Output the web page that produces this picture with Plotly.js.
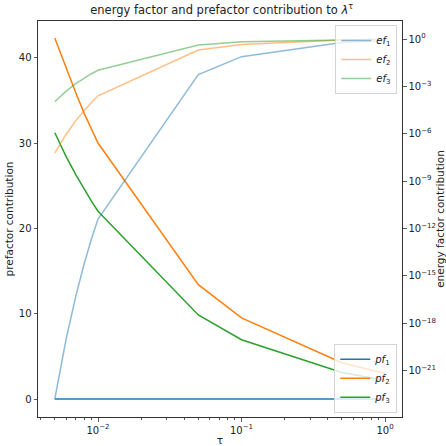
<!DOCTYPE html>
<html>
<head>
<meta charset="utf-8">
<script src="https://cdn.plot.ly/plotly-3.0.1.min.js"></script>
<style>html,body{margin:0;padding:0;background:#fff;}#chart{width:446px;height:446px;}</style>
</head>
<body>
<div id="chart"></div>
<script>
// temperature values
const tau = [0.005, 0.006, 0.007, 0.008, 0.009, 0.01, 0.05, 0.1, 0.5, 1.0];
// prefactor contributions (left axis, linear)
const pf1 = [0, 0, 0, 0, 0, 0, 0, 0, 0, 0];
const pf2 = [42.3, 38.7, 35.9, 33.5, 31.6, 30.0, 13.4, 9.5, 4.25, 3.0];
const pf3 = [31.2, 28.4, 26.3, 24.6, 23.2, 22.0, 9.85, 6.95, 3.1, 2.2];
// energy factor contributions (right axis, log) as exponents of 10
const ef1Exp = [-22.8, -19.0, -16.3, -14.25, -12.67, -11.4, -2.25, -1.12, -0.22, -0.11];
const ef2Exp = [-7.23, -6.03, -5.17, -4.52, -4.02, -3.6, -0.7, -0.35, -0.07, -0.036];
const ef3Exp = [-3.97, -3.3, -2.83, -2.48, -2.2, -1.98, -0.38, -0.18, -0.04, -0.02];
const ef1 = ef1Exp.map(e => Math.pow(10, e));
const ef2 = ef2Exp.map(e => Math.pow(10, e));
const ef3 = ef3Exp.map(e => Math.pow(10, e));

const xTickVals = [0.01, 0.1, 1];
const xTickText = ['10<sup>−2</sup>', '10<sup>−1</sup>', '10<sup>0</sup>'];
const y2TickExp = [0, -3, -6, -9, -12, -15, -18, -21];

const C = {blue: '31,119,180', orange: '255,127,14', green: '44,160,44'};
const minorX = [];
[0.001, 0.01, 0.1].forEach(d => { for (let k = 2; k <= 9; k++) minorX.push(k * d); });

const traces = [
  {x: tau, y: pf1, name: '<i>pf</i><sub>1</sub>', yaxis: 'y', legend: 'legend2', mode: 'lines', line: {color: 'rgb(' + C.blue + ')', width: 1.5}},
  {x: tau, y: pf2, name: '<i>pf</i><sub>2</sub>', yaxis: 'y', legend: 'legend2', mode: 'lines', line: {color: 'rgb(' + C.orange + ')', width: 1.5}},
  {x: tau, y: pf3, name: '<i>pf</i><sub>3</sub>', yaxis: 'y', legend: 'legend2', mode: 'lines', line: {color: 'rgb(' + C.green + ')', width: 1.5}},
  {x: tau, y: ef1, name: '<i>ef</i><sub>1</sub>', yaxis: 'y2', legend: 'legend', mode: 'lines', line: {color: 'rgba(' + C.blue + ',0.5)', width: 1.5}},
  {x: tau, y: ef2, name: '<i>ef</i><sub>2</sub>', yaxis: 'y2', legend: 'legend', mode: 'lines', line: {color: 'rgba(' + C.orange + ',0.5)', width: 1.5}},
  {x: tau, y: ef3, name: '<i>ef</i><sub>3</sub>', yaxis: 'y2', legend: 'legend', mode: 'lines', line: {color: 'rgba(' + C.green + ',0.5)', width: 1.5}}
];

const axisCommon = {
  showgrid: false, zeroline: false, showline: true, linecolor: '#333', linewidth: 1,
  ticks: 'outside', ticklen: 3.5, tickwidth: 0.8, tickcolor: '#333',
  tickfont: {size: 10, color: '#222'}
};

const legendCommon = {
  bgcolor: 'rgba(255,255,255,0.8)', bordercolor: '#d5d5d5', borderwidth: 1,
  font: {size: 10, color: '#222'}, xanchor: 'right', itemwidth: 30,
  tracegroupgap: 0
};

const layout = {
  width: 446, height: 446,
  margin: {l: 38, r: 44, t: 21, b: 29},
  paper_bgcolor: '#fff', plot_bgcolor: '#fff',
  font: {family: 'DejaVu Sans, sans-serif', color: '#222'},
  title: {text: 'energy factor and prefactor contribution to <i>λ</i><sup>τ</sup>', font: {size: 11.5}, x: 0.497, xanchor: 'center', y: 0.978, yanchor: 'middle'},
  showlegend: true,
  xaxis: Object.assign({}, axisCommon, {
    type: 'log', range: [-2.418, 0.118], mirror: true,
    tickvals: xTickVals, ticktext: xTickText,
    minor: {tickvals: minorX, ticks: 'outside', ticklen: 2, tickcolor: '#333', showgrid: false},
    title: {text: 'τ', font: {size: 10.5}, standoff: 3}
  }),
  yaxis: Object.assign({}, axisCommon, {
    range: [-2.11, 44.3], tickvals: [0, 10, 20, 30, 40], side: 'left',
    title: {text: 'prefactor contribution', font: {size: 10.5}, standoff: 3}
  }),
  yaxis2: Object.assign({}, axisCommon, {
    type: 'log', range: [-23.94, 1.14], overlaying: 'y', side: 'right', anchor: 'x',
    tickvals: y2TickExp.map(e => Math.pow(10, e)),
    ticktext: y2TickExp.map(e => '10<sup>' + (e < 0 ? '−' + (-e) : e) + '</sup>'),
    title: {text: 'energy factor contribution', font: {size: 10.5}, standoff: 4}
  }),
  legend: Object.assign({}, legendCommon, {x: 0.987, y: 0.99, yanchor: 'top'}),
  legend2: Object.assign({}, legendCommon, {x: 0.987, y: 0.011, yanchor: 'bottom'})
};

Plotly.newPlot('chart', traces, layout, {displayModeBar: false, staticPlot: true});
</script>
</body>
</html>
